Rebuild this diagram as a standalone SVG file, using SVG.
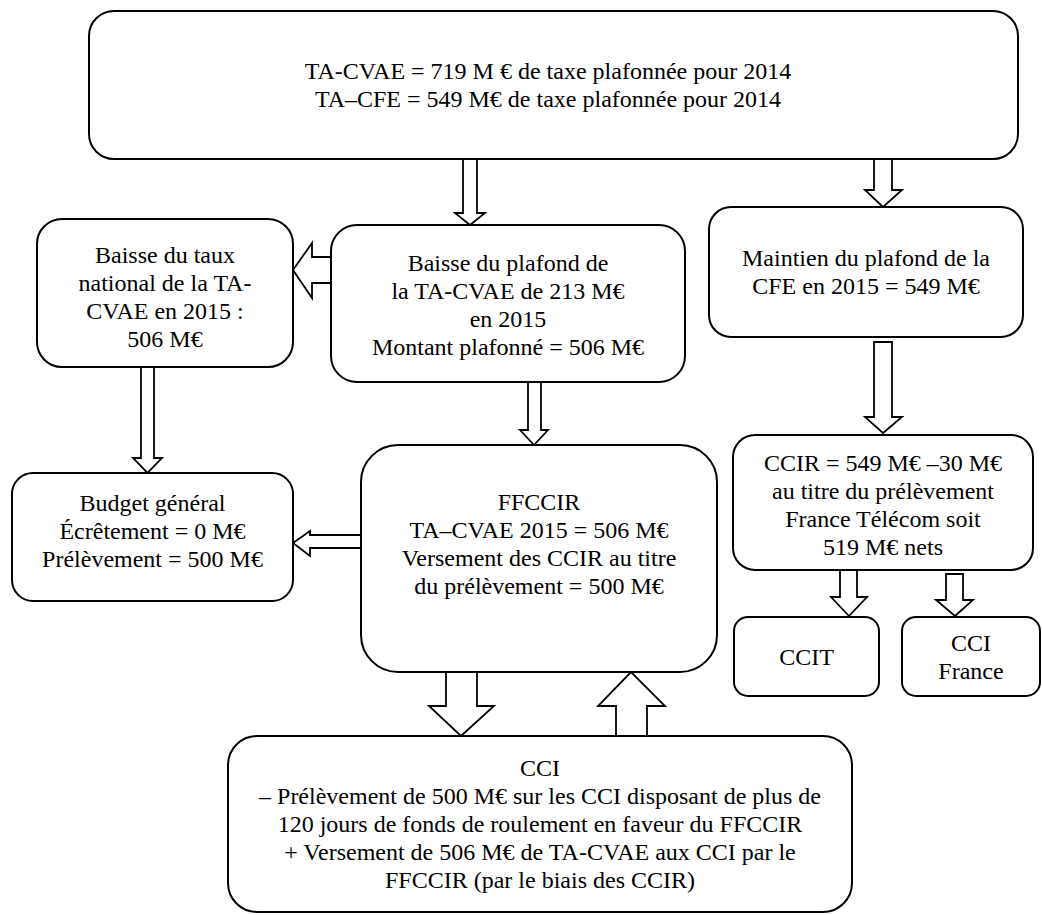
<svg xmlns="http://www.w3.org/2000/svg" width="1042" height="915" viewBox="0 0 1042 915">
  <style>
    .box { fill: #ffffff; stroke: #000000; stroke-width: 2; }
    .arrow { fill: #ffffff; stroke: #000000; stroke-width: 1.8; stroke-linejoin: miter; }
    .label text { font-family: 'Liberation Serif', 'Times New Roman', serif; font-size: 24px; fill: #000000; text-anchor: middle; }
  </style>
  <rect width="1042" height="915" fill="#ffffff"/>

  <!-- hollow block arrows between the boxes -->
  <g id="connectors">
    <polygon class="arrow" points="463,159 477,159 477,213 485,213 470,225 455,213 463,213"/>
    <polygon class="arrow" points="874,159 892,159 892,190 902,190 883,207 865,190 874,190"/>
    <polygon class="arrow" points="331,257 312,257 312,243 293,270 312,298 312,283 331,283"/>
    <polygon class="arrow" points="141,367 154,367 154,458 162,458 147.5,473 133,458 141,458"/>
    <polygon class="arrow" points="528,382 541,382 541,430 548,430 534,445 520,430 528,430"/>
    <polygon class="arrow" points="874,342 892,342 892,417 902,417 883,433 865,417 874,417"/>
    <polygon class="arrow" points="361,535 310,535 310,531 293,543 310,556 310,548 361,548"/>
    <polygon class="arrow" points="446,672 477,672 477,706 494,706 461,736 429,706 446,706"/>
    <polygon class="arrow" points="616,736 647,736 647,706 665,706 631,672 598,706 616,706"/>
    <polygon class="arrow" points="840,570 857,570 857,597 867,597 849,616 831,597 840,597"/>
    <polygon class="arrow" points="946,574 963,574 963,600 973,600 955,616 936,600 946,600"/>
  </g>

  <g class="label">
    <g id="taxe-2014">
      <rect class="box" x="89" y="11" width="929" height="148" rx="25"/>
      <text x="548" y="79">TA-CVAE = 719 M € de taxe plafonnée pour 2014</text>
      <text x="548" y="107">TA–CFE = 549 M€ de taxe plafonnée pour 2014</text>
    </g>

    <g id="baisse-taux">
      <rect class="box" x="37" y="219" width="256" height="148" rx="25"/>
      <text x="165" y="263">Baisse du taux</text>
      <text x="165" y="291">national de la TA-</text>
      <text x="165" y="319">CVAE en 2015 :</text>
      <text x="165" y="347">506 M€</text>
    </g>

    <g id="baisse-plafond">
      <rect class="box" x="331" y="225" width="354" height="157" rx="26"/>
      <text x="508" y="271">Baisse du plafond de</text>
      <text x="508" y="299">la TA-CVAE de 213 M€</text>
      <text x="508" y="327">en 2015</text>
      <text x="508" y="355">Montant plafonné = 506 M€</text>
    </g>

    <g id="maintien-cfe">
      <rect class="box" x="709" y="207" width="314" height="130" rx="22"/>
      <text x="866" y="266">Maintien du plafond de la</text>
      <text x="866" y="294">CFE en 2015 = 549 M€</text>
    </g>

    <g id="budget-general">
      <rect class="box" x="12" y="473" width="281" height="128" rx="21"/>
      <text x="152.5" y="511">Budget général</text>
      <text x="152.5" y="539">Écrêtement = 0 M€</text>
      <text x="152.5" y="567">Prélèvement = 500 M€</text>
    </g>

    <g id="ffccir">
      <rect class="box" x="361" y="445" width="356" height="227" rx="37"/>
      <text x="539" y="510">FFCCIR</text>
      <text x="539" y="538">TA–CVAE 2015 = 506 M€</text>
      <text x="539" y="566">Versement des CCIR au titre</text>
      <text x="539" y="594">du prélèvement = 500 M€</text>
    </g>

    <g id="ccir">
      <rect class="box" x="733" y="435" width="300" height="135" rx="22"/>
      <text x="883" y="471">CCIR = 549 M€ –30 M€</text>
      <text x="883" y="499">au titre du prélèvement</text>
      <text x="883" y="527">France Télécom soit</text>
      <text x="883" y="555">519 M€ nets</text>
    </g>

    <g id="ccit">
      <rect class="box" x="734" y="617" width="145" height="79" rx="14"/>
      <text x="806.5" y="665">CCIT</text>
    </g>

    <g id="cci-france">
      <rect class="box" x="902" y="617" width="138" height="79" rx="14"/>
      <text x="971" y="651">CCI</text>
      <text x="971" y="679">France</text>
    </g>

    <g id="cci">
      <rect class="box" x="228" y="736" width="624" height="176" rx="29"/>
      <text x="540" y="776">CCI</text>
      <text x="540" y="804">– Prélèvement de 500 M€ sur les CCI disposant de plus de</text>
      <text x="540" y="832">120 jours de fonds de roulement en faveur du FFCCIR</text>
      <text x="540" y="860">+ Versement de 506 M€ de TA-CVAE aux CCI par le</text>
      <text x="540" y="888">FFCCIR (par le biais des CCIR)</text>
    </g>
  </g>
</svg>
